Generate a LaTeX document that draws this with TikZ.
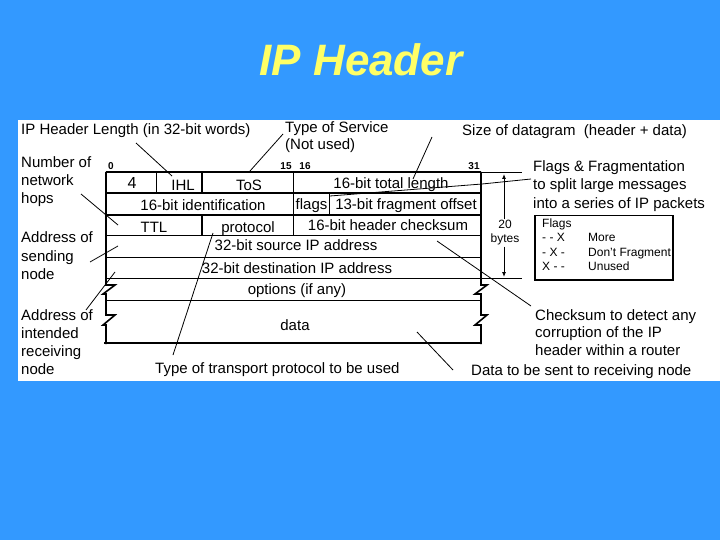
\documentclass[tikz,border=0pt]{standalone}
\usepackage{fontspec}
\setmainfont{Liberation Sans}
\usetikzlibrary{arrows.meta}
\definecolor{bgblue}{RGB}{51,153,255}
\definecolor{ttlyellow}{RGB}{255,255,102}
\begin{document}
\begin{tikzpicture}[x=1pt,y=-1pt,
  lbl/.style={font=\fontsize{15}{18}\selectfont, inner sep=0, anchor=base west},
  celltxt/.style={font=\fontsize{15}{18}\selectfont, inner sep=0, anchor=base},
  bitno/.style={font=\fontsize{10}{12}\selectfont\bfseries, inner sep=0, anchor=base},
  flg/.style={font=\fontsize{12}{14}\selectfont, inner sep=0, anchor=base west},
  leader/.style={draw=black, line width=0.8pt},
  thinl/.style={draw=black, line width=1pt},
  medl/.style={draw=black, line width=1.6pt},
  thickl/.style={draw=black, line width=2.6pt},
  dimarrow/.style={draw=black, line width=0.9pt, -{Latex[length=5pt,width=4pt]}},
]
% background and panel
\fill[bgblue] (0,0) rectangle (720,540);
\useasboundingbox (0,0) rectangle (720,540);
\fill[white] (18,120) rectangle (720,381);

% title
\node[font=\fontsize{44}{50}\selectfont\bfseries\itshape, text=ttlyellow, inner sep=0] (title) at (361,60) {IP Header};

% ---- table lines ----
\draw[medl] (106,172) -- (481,172);
\draw[thickl] (106,193) -- (481,193);
\draw[thickl] (106,215) -- (481,215);
\draw[thinl] (106,235.5) -- (481,235.5);
\draw[thinl] (106,257) -- (481,257);
\draw[thinl] (106,278) -- (481,278);
\draw[thinl] (106,300) -- (481,300);
\draw[thickl] (104,343) -- (482,343);
% left edge with breaks
\draw[medl] (106,172) -- (106,285) -- (115,285) -- (103,294) -- (106,294) -- (106,315) -- (115,315) -- (103,325) -- (106,325) -- (106,344);
% right edge with breaks
\draw[medl] (481,172) -- (481,285) -- (487,285) -- (475,294) -- (481,294) -- (481,315) -- (487,315) -- (475,325) -- (481,325) -- (481,344);
% column dividers
\draw[thinl] (156,172) -- (156,193);
\draw[medl] (202,172) -- (202,193);
\draw[medl] (202,215) -- (202,235.5);
\draw[medl] (293.5,172) -- (293.5,235.5);
\draw[thinl] (329,215) -- (329,192);

% bit numbers
\node[bitno] (b0) at (111,170) {0};
\node[bitno] (b15) at (286,170) {15};
\node[bitno] (b16) at (305,170) {16};
\node[bitno] (b31) at (474,170) {31};

% cell texts
\node[celltxt, font=\fontsize{16}{18}\selectfont] (v4) at (132,189) {4};
\node[celltxt] (ihl) at (183,191) {IHL};
\node[celltxt] (tos) at (249,191) {ToS};
\node[celltxt] (tlen) at (391,189) {16-bit total length};
\node[celltxt] (ident) at (203,211) {16-bit identification};
\node[celltxt] (flags) at (311.5,210) {flags};
\node[celltxt] (frag) at (406,210) {13-bit fragment offset};
\node[celltxt] (ttl) at (154,233) {TTL};
\node[celltxt] (proto) at (248,233) {protocol};
\node[celltxt] (hcs) at (388,230) {16-bit header checksum};
\node[celltxt] (src) at (296,251) {32-bit source IP address};
\node[celltxt] (dst) at (297,273) {32-bit destination IP address};
\node[celltxt] (opt) at (297,294) {options (if any)};
\node[celltxt] (data) at (295,330) {data};

% ---- labels ----
\node[lbl] (hlen) at (21,135) {IP Header Length (in 32-bit words)};
\node[lbl] (tosA) at (285,133) {Type of Service};
\node[lbl] (tosB) at (285,150) {(Not used)};
\node[lbl] (size) at (462,136) {Size of datagram\ \ (header + data)};
\node[lbl] (numA) at (21,168) {Number of};
\node[lbl] (numB) at (21,186) {network};
\node[lbl] (numC) at (21,204) {hops};
\node[lbl] (sndA) at (21,243) {Address of};
\node[lbl] (sndB) at (21,261) {sending};
\node[lbl] (sndC) at (21,279) {node};
\node[lbl] (rcvA) at (21,320) {Address of};
\node[lbl] (rcvB) at (21,338) {intended};
\node[lbl] (rcvC) at (21,356) {receiving};
\node[lbl] (rcvD) at (21,374) {node};
\node[lbl] (trans) at (155,373) {Type of transport protocol to be used};
\node[lbl] (dsent) at (471,375) {Data to be sent to receiving node};
\node[lbl] (fragA) at (533,172) {Flags \& Fragmentation};
\node[lbl] (fragB) at (533,190) {to split large messages};
\node[lbl] (fragC) at (533,208) {into a series of IP packets};
\node[lbl] (csA) at (535,320) {Checksum to detect any};
\node[lbl] (csB) at (535,337) {corruption of the IP};
\node[lbl] (csC) at (535,355) {header within a router};

% flags box
\draw[medl] (535,215.5) rectangle (673,280);
\node[flg] (fh) at (542,228) {Flags};
\node[flg] (f1a) at (542,241) {- - X};
\node[flg] (f1b) at (588,241) {More};
\node[flg] (f2a) at (542,256) {- X -};
\node[flg] (f2b) at (588,256) {Don't Fragment};
\node[flg] (f3a) at (542,270) {X - -};
\node[flg] (f3b) at (588,270) {Unused};

% dimension 20 bytes
\draw[thinl] (481,173) -- (522,173);
\draw[thinl] (481,278) -- (522,278);
\node[font=\fontsize{12}{14}\selectfont, align=center, inner sep=1pt, fill=white] (dim) at (505,233) {20\\bytes};
\coordinate (dimT) at (504,174);
\coordinate (dimB) at (504,277);
\draw[dimarrow] (dim.north -| dimT) -- (dimT);
\draw[dimarrow] (dim.south -| dimB) -- (dimB);

% ---- leader lines ----
\coordinate (l1a) at (136,143); \coordinate (l1b) at (172,176);
\coordinate (l2a) at (283,134); \coordinate (l2b) at (250,171);
\coordinate (l3a) at (432,137); \coordinate (l3b) at (413,179);
\coordinate (l4a) at (81,194);  \coordinate (l4b) at (118,225);
\coordinate (l5a) at (90,262);  \coordinate (l5b) at (118,246);
\coordinate (l6a) at (86,310);  \coordinate (l6b) at (115,272);
\coordinate (l7a) at (173,355); \coordinate (l7b) at (213,233);
\coordinate (l8a) at (437,241); \coordinate (l8b) at (531,306);
\coordinate (l9a) at (417,332); \coordinate (l9b) at (453,370);
\coordinate (l10a) at (330,196); \coordinate (l10m) at (482,184); \coordinate (l10b) at (531,179);
\draw[leader] (l1a) -- (l1b);
\draw[leader] (l2a) -- (l2b);
\draw[leader] (l3a) -- (l3b);
\draw[leader] (l4a) -- (l4b);
\draw[leader] (l5a) -- (l5b);
\draw[leader] (l6a) -- (l6b);
\draw[leader] (l7a) -- (l7b);
\draw[leader] (l8a) -- (l8b);
\draw[leader] (l9a) -- (l9b);
\draw[leader] (l10a) -- (l10m) -- (l10b);
\end{tikzpicture}
\end{document}
